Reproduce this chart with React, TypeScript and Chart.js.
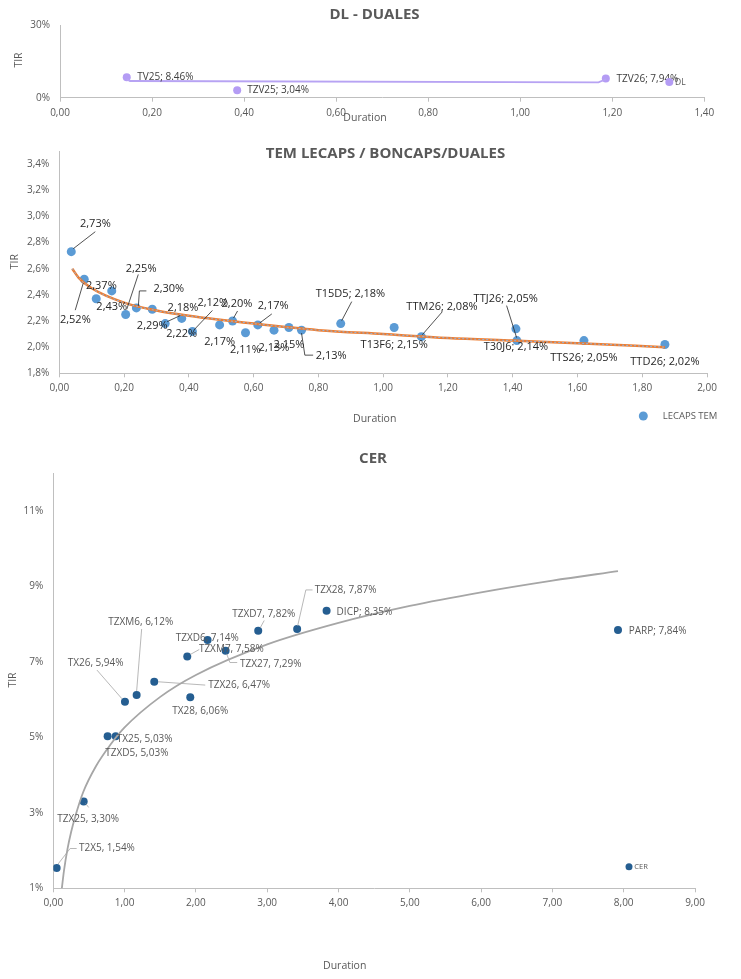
import { useEffect, useRef } from 'react';
import { Chart, registerables } from 'chart.js';
Chart.register(...registerables);

const FONT = "'Open Sans', 'DejaVu Sans', sans-serif";
const GREY = '#595959';
const AXIS = '#BFBFBF';
const W = 741;

// ---------- DL - DUALES ----------
const dlLabels = ['TV25; 8.46%', 'TZV25; 3,04%', 'TZV26; 7,94%'];
const dlDuration = [0.145, 0.385, 1.186];
const dlTir = [8.46, 3.04, 7.94];
const dlLineDuration = [0.145, 0.152, 1.17, 1.186];
const dlLineTir = [7.6, 6.9, 6.35, 7.6];
const dlXTicks = [0, 0.2, 0.4, 0.6, 0.8, 1.0, 1.2, 1.4];
const dlYTicks = [0, 30];

// ---------- TEM LECAPS / BONCAPS / DUALES ----------
const temLabels = ['2,73%', '2,52%', '2,37%', '2,43%', '2,25%', '2,30%', '2,29%', '2,18%', '2,22%', '2,12%', '2,17%', '2,20%', '2,11%', '2,17%', '2,13%', '2,15%', '2,13%', 'T15D5; 2,18%', 'T13F6; 2,15%', 'TTM26; 2,08%', 'T30J6; 2,14%', 'TTJ26; 2,05%', 'TTS26; 2,05%', 'TTD26; 2,02%'];
const temDuration = [0.037, 0.077, 0.114, 0.162, 0.205, 0.238, 0.287, 0.327, 0.378, 0.411, 0.495, 0.535, 0.575, 0.613, 0.663, 0.709, 0.748, 0.869, 1.034, 1.118, 1.41, 1.413, 1.62, 1.87];
const temTir = [2.73, 2.52, 2.37, 2.43, 2.25, 2.30, 2.29, 2.18, 2.22, 2.12, 2.17, 2.20, 2.11, 2.17, 2.13, 2.15, 2.13, 2.18, 2.15, 2.08, 2.14, 2.05, 2.05, 2.02];
const temTrendDuration = [0.04, 0.06, 0.1, 0.2, 0.3, 0.4, 0.6, 0.8, 1.0, 1.2, 1.4, 1.6, 1.87];
const temTrendTir = [2.60, 2.53, 2.45, 2.34, 2.28, 2.24, 2.18, 2.13, 2.10, 2.07, 2.05, 2.03, 2.00];
const temXTicks = [0, 0.2, 0.4, 0.6, 0.8, 1.0, 1.2, 1.4, 1.6, 1.8, 2.0];
const temYTicks = [1.8, 2.0, 2.2, 2.4, 2.6, 2.8, 3.0, 3.2, 3.4];

// ---------- CER ----------
const cerLabels = ['T2X5, 1,54%', 'TZX25, 3,30%', 'TZXD5, 5,03%', 'TX25, 5,03%', 'TX26, 5,94%', 'TZXM6, 6,12%', 'TZX26, 6,47%', 'TZXD6, 7,14%', 'TX28, 6,06%', 'TZXM7, 7,58%', 'TZX27, 7,29%', 'TZXD7, 7,82%', 'TZX28, 7,87%', 'DICP; 8,35%', 'PARP; 7,84%'];
const cerDuration = [0.047, 0.426, 0.762, 0.875, 1.005, 1.169, 1.416, 1.879, 1.921, 2.164, 2.417, 2.874, 3.42, 3.833, 7.92];
const cerTir = [1.54, 3.30, 5.03, 5.03, 5.94, 6.12, 6.47, 7.14, 6.06, 7.58, 7.29, 7.82, 7.87, 8.35, 7.84];
const cerTrendDuration = [0.12, 0.15, 0.2, 0.25, 0.3, 0.42, 0.6, 0.8, 1.0, 1.5, 2.0, 3.0, 4.0, 5.0, 6.0, 7.0, 7.92];
const cerTrendTir = [1.0, 1.47, 2.05, 2.49, 2.85, 3.55, 4.24, 4.8, 5.26, 6.07, 6.65, 7.46, 8.03, 8.48, 8.84, 9.15, 9.4];
const cerXTicks = [0, 1, 2, 3, 4, 5, 6, 7, 8, 9];
const cerYTicks = [1, 3, 5, 7, 9, 11];

// label placement (pixel offsets from the point): [dx, dy, align]
type Pos = [number, number, 'l' | 'c'];
const dlLabelPos: Pos[] = [[10.6, 0, 'l'], [10, 0, 'l'], [10.7, 0.6, 'l']];
const temLabelPos: Pos[] = [
  [8.7, -27.6, 'l'], [-24.3, 41, 'l'], [-10.3, -12.7, 'l'], [0, 16.4, 'c'], [0, -45.4, 'l'],
  [17, -19, 'l'], [0, 17, 'c'], [2.4, -15.3, 'l'], [0, 15.6, 'c'], [5, -28.4, 'l'],
  [0, 17, 'c'], [-11, -17, 'l'], [0, 17, 'c'], [0, -19, 'l'], [0, 17.7, 'c'],
  [0, 17.7, 'c'], [14.3, 26, 'l'], [-25, -29.3, 'l'], [0, 17.3, 'c'], [-15, -30.3, 'l'],
  [0, 18.4, 'c'], [-43.3, -41.7, 'l'], [0, 17.6, 'c'], [0, 17.4, 'c'],
];
const temLeaders: (number[][] | null)[] = [
  [[2, -3], [24, -20]], [[-1, 4], [-9, 31]], null, null, [[1, -5], [12.6, -40]],
  [[2, -2], [3, -17], [10, -17]], null, [[2, -2], [15, -8]], null, [[2, -2], [20, -21]],
  null, [[1, -3], [5, -10]], null, [[2, -2], [14, -11]], null,
  null, [[0, 3], [3.3, 25], [11.6, 25]], [[1, -3], [11, -22]], null, [[1, -2], [21, -25]],
  null, [[-10.3, -35], [-0.3, -3]], null, null,
];
const cerLabelPos: Pos[] = [
  [22.3, -19.4, 'l'], [-26.4, 17.4, 'l'], [-2.4, 16.7, 'l'], [1, 3, 'l'], [-57.3, -39, 'l'],
  [-28.4, -72.6, 'l'], [54, 3.3, 'l'], [-11.6, -18.7, 'l'], [-18, 14, 'l'], [-8.7, 9.7, 'l'],
  [14.3, 13.3, 'l'], [-26, -16.6, 'l'], [17.7, -38.7, 'l'], [10, 1, 'l'], [10.7, 0.7, 'l'],
];
const cerLeaders: (number[][] | null)[] = [
  [[1.5, -4], [13.5, -19.4], [20, -19.4]], [[2, 2], [5, 6]], null, null, [[-28, -31.7], [-3, -3]],
  [[5, -66], [0, -4]], [[4, 0], [51, 3.3]], [[3, -2], [12, -7]], null, null,
  [[1, 3], [4.3, 11.7], [11.6, 11.7]], [[2, -3], [6, -10.3]], [[0.5, -3], [8.7, -39], [15.4, -39]], null, null,
];

const pts = (xs: number[], ys: number[]) => xs.map((x, i) => ({ x, y: ys[i] }));
const comma = (v: number, d: number) => v.toFixed(d).replace('.', ',');

function drawText(ctx: CanvasRenderingContext2D, s: string, x: number, y: number, font: string, color: string, align: CanvasTextAlign = 'center', rot = 0) {
  ctx.save();
  ctx.font = font;
  ctx.fillStyle = color;
  ctx.textAlign = align;
  ctx.textBaseline = 'middle';
  ctx.translate(x, y);
  if (rot) ctx.rotate(rot);
  ctx.fillText(s, 0, 0);
  ctx.restore();
}

function legendMark(ctx: CanvasRenderingContext2D, x: number, y: number, r: number, color: string) {
  ctx.save();
  ctx.fillStyle = color;
  ctx.beginPath();
  ctx.arc(x, y, r, 0, Math.PI * 2);
  ctx.fill();
  ctx.restore();
}

type Spec = {
  height: number;
  area: { l: number; r: number; t: number; b: number };
  xMin: number; xMax: number; yMin: number; yMax: number;
  xTicks: number[]; yTicks: number[];
  xFmt: (v: number) => string; yFmt: (v: number) => string;
  datasets: any[];
  labels: string[]; pos: Pos[]; leaders?: (number[][] | null)[];
  labelFont: string; labelColor: string; leaderColor: string;
  overlay: (ctx: CanvasRenderingContext2D) => void;
};

function build(canvas: HTMLCanvasElement, s: Spec) {
  const labelPlugin = {
    id: 'pointLabels',
    afterDatasetsDraw(chart: any) {
      const ctx = chart.ctx as CanvasRenderingContext2D;
      const meta = chart.getDatasetMeta(0);
      meta.data.forEach((el: any, i: number) => {
        const x = el.x, y = el.y;
        const lead = s.leaders ? s.leaders[i] : null;
        if (lead) {
          ctx.save();
          ctx.strokeStyle = s.leaderColor;
          ctx.lineWidth = 0.8;
          ctx.beginPath();
          lead.forEach((p, k) => (k ? ctx.lineTo(x + p[0], y + p[1]) : ctx.moveTo(x + p[0], y + p[1])));
          ctx.stroke();
          ctx.restore();
        }
        const [dx, dy, al] = s.pos[i];
        drawText(ctx, s.labels[i], x + dx, y + dy, s.labelFont, s.labelColor, al === 'c' ? 'center' : 'left');
      });
    },
    afterDraw(chart: any) {
      s.overlay(chart.ctx);
    },
  };
  const tickFont = { family: FONT, size: 10 };
  return new Chart(canvas, {
    type: 'scatter',
    data: { datasets: s.datasets },
    options: {
      responsive: false,
      animation: false,
      devicePixelRatio: 1,
      events: [],
      layout: { padding: { left: 0, top: s.area.t, right: W - s.area.r, bottom: 0 } },
      plugins: { legend: { display: false }, tooltip: { enabled: false }, title: { display: false } },
      scales: {
        x: {
          type: 'linear', min: s.xMin, max: s.xMax,
          afterBuildTicks: (sc: any) => { sc.ticks = s.xTicks.map((v) => ({ value: v })); },
          afterFit: (sc: any) => { sc.height = s.height - s.area.b; },
          grid: { display: true, drawOnChartArea: false, drawTicks: true, tickLength: 4, color: AXIS },
          border: { display: true, color: AXIS, width: 1 },
          ticks: { callback: (v: any) => s.xFmt(Number(v)), font: tickFont, color: GREY, padding: 5, maxRotation: 0, autoSkip: false },
        },
        y: {
          type: 'linear', min: s.yMin, max: s.yMax,
          afterBuildTicks: (sc: any) => { sc.ticks = s.yTicks.map((v) => ({ value: v })); },
          afterFit: (sc: any) => { sc.width = s.area.l; },
          grid: { display: true, drawOnChartArea: false, drawTicks: false, color: AXIS },
          border: { display: true, color: AXIS, width: 1 },
          ticks: { callback: (v: any) => s.yFmt(Number(v)), font: tickFont, color: GREY, padding: 10, autoSkip: false },
        },
      },
    } as any,
    plugins: [labelPlugin],
  });
}

const H1 = 130, H2 = 300, H3 = 539;
const T2 = 135, T3 = 440;

export default function App() {
  const r1 = useRef<HTMLCanvasElement>(null);
  const r2 = useRef<HTMLCanvasElement>(null);
  const r3 = useRef<HTMLCanvasElement>(null);

  useEffect(() => {
    const titleFont = `bold 15px ${FONT}`;
    const axFont = `10.5px ${FONT}`;
    const c1 = build(r1.current!, {
      height: H1,
      area: { l: 60, r: 704.3, t: 25, b: 97.7 },
      xMin: 0, xMax: 1.4, yMin: 0, yMax: 30,
      xTicks: dlXTicks, yTicks: dlYTicks,
      xFmt: (v) => comma(v, 2), yFmt: (v) => v.toFixed(0) + '%',
      datasets: [
        { data: pts(dlDuration, dlTir), pointRadius: 4, pointBackgroundColor: '#B49CF4', pointBorderWidth: 0, order: 1 },
        { data: pts(dlLineDuration, dlLineTir), showLine: true, pointRadius: 0, borderColor: '#B7A3F3', borderWidth: 1.8, tension: 0, order: 0 },
      ],
      labels: dlLabels, pos: dlLabelPos,
      labelFont: `10px ${FONT}`, labelColor: '#404040', leaderColor: '#404040',
      overlay: (ctx) => {
        drawText(ctx, 'DL - DUALES', 374.5, 15, titleFont, GREY);
        drawText(ctx, 'TIR', 19, 60, axFont, GREY, 'center', -Math.PI / 2);
        drawText(ctx, 'Duration', 365, 118.3, axFont, GREY);
        legendMark(ctx, 669.3, 82, 4, '#B49CF4');
        drawText(ctx, 'DL', 675, 82.5, `8.5px ${FONT}`, GREY, 'left');
      },
    });
    const c2 = build(r2.current!, {
      height: H2,
      area: { l: 59.3, r: 707, t: 150 - T2, b: 373.3 - T2 },
      xMin: 0, xMax: 2, yMin: 1.8, yMax: 3.5,
      xTicks: temXTicks, yTicks: temYTicks,
      xFmt: (v) => comma(v, 2), yFmt: (v) => comma(v, 1) + '%',
      datasets: [
        { data: pts(temDuration, temTir), pointRadius: 4.5, pointBackgroundColor: '#5B9BD5', pointBorderWidth: 0, order: 2 },
        { data: pts(temTrendDuration, temTrendTir), showLine: true, pointRadius: 0, borderColor: '#ED7D31', borderWidth: 2.5, cubicInterpolationMode: 'monotone', order: 1 },
        { data: pts(temTrendDuration, temTrendTir), showLine: true, pointRadius: 0, borderColor: '#8FB4DE', borderWidth: 1, borderDash: [2, 2], cubicInterpolationMode: 'monotone', order: 0 },
      ],
      labels: temLabels, pos: temLabelPos, leaders: temLeaders,
      labelFont: `11px ${FONT}`, labelColor: '#262626', leaderColor: '#262626',
      overlay: (ctx) => {
        drawText(ctx, 'TEM LECAPS / BONCAPS/DUALES', 385.5, 153.3 - T2, titleFont, GREY);
        drawText(ctx, 'TIR', 15, 261.7 - T2, axFont, GREY, 'center', -Math.PI / 2);
        drawText(ctx, 'Duration', 374.7, 419.3 - T2, axFont, GREY);
        legendMark(ctx, 643.3, 416 - T2, 4.5, '#5B9BD5');
        drawText(ctx, 'LECAPS TEM', 662.7, 416.5 - T2, `9.5px ${FONT}`, GREY, 'left');
      },
    });
    const c3 = build(r3.current!, {
      height: H3,
      area: { l: 53.3, r: 695, t: 473 - T3, b: 888.3 - T3 },
      xMin: 0, xMax: 9, yMin: 1, yMax: 12,
      xTicks: cerXTicks, yTicks: cerYTicks,
      xFmt: (v) => comma(v, 2), yFmt: (v) => v.toFixed(0) + '%',
      datasets: [
        { data: pts(cerDuration, cerTir), pointRadius: 4, pointBackgroundColor: '#255E91', pointBorderWidth: 0, order: 1 },
        { data: pts(cerTrendDuration, cerTrendTir), showLine: true, pointRadius: 0, borderColor: '#A6A6A6', borderWidth: 1.8, cubicInterpolationMode: 'monotone', order: 0 },
      ],
      labels: cerLabels, pos: cerLabelPos, leaders: cerLeaders,
      labelFont: `10px ${FONT}`, labelColor: GREY, leaderColor: '#A6A6A6',
      overlay: (ctx) => {
        drawText(ctx, 'CER', 373, 458.3 - T3, titleFont, GREY);
        drawText(ctx, 'TIR', 13.3, 680 - T3, axFont, GREY, 'center', -Math.PI / 2);
        drawText(ctx, 'Duration', 344.7, 966 - T3, axFont, GREY);
        legendMark(ctx, 629, 866.7 - T3, 3.5, '#255E91');
        drawText(ctx, 'CER', 634.3, 867 - T3, `7.5px ${FONT}`, GREY, 'left');
      },
    });
    return () => { c1.destroy(); c2.destroy(); c3.destroy(); };
  }, []);

  const cs = (top: number): React.CSSProperties => ({ position: 'absolute', left: 0, top, display: 'block' });
  return (
    <div style={{ position: 'absolute', left: 0, top: 0, width: W, height: 979, background: '#fff' }}>
      <canvas ref={r1} width={W} height={H1} style={cs(0)} />
      <canvas ref={r2} width={W} height={H2} style={cs(T2)} />
      <canvas ref={r3} width={W} height={H3} style={cs(T3)} />
    </div>
  );
}
